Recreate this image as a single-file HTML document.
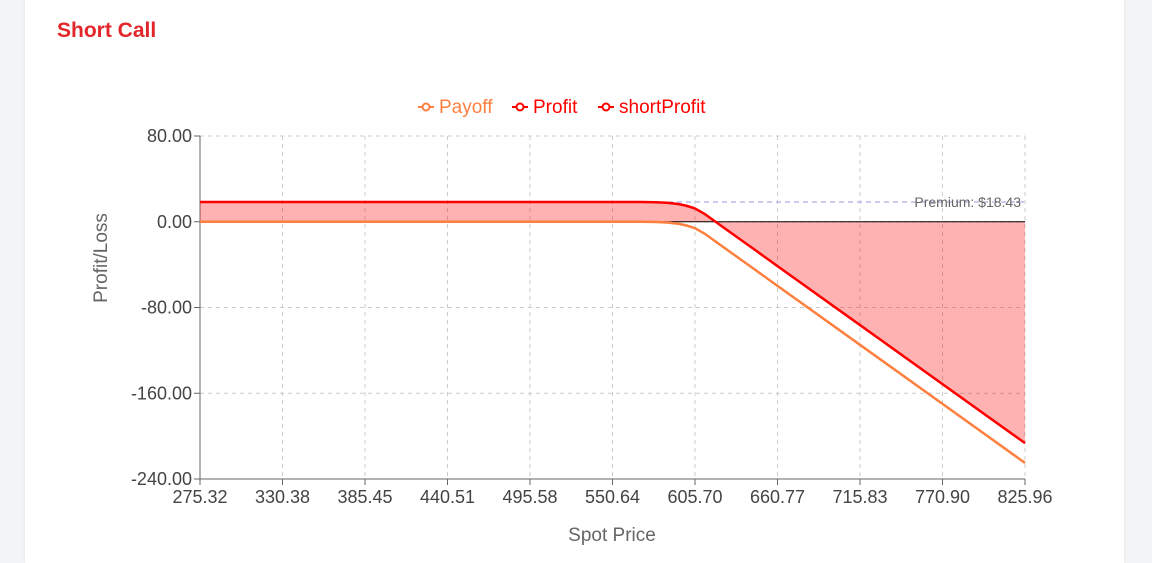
<!DOCTYPE html>
<html><head><meta charset="utf-8"><style>
html,body{margin:0;padding:0;width:1152px;height:563px;overflow:hidden;background:#f3f4f6;font-family:"Liberation Sans",sans-serif}
#card{position:absolute;left:25px;top:-10px;width:1099px;height:573px;background:#fff;box-shadow:0 0 3px rgba(0,0,0,0.08)}
#title{position:absolute;left:57px;top:19px;font-size:21px;font-weight:bold;color:#e3262b}
svg{position:absolute;left:0;top:0}
</style></head><body>
<div id="card"></div>
<div id="title">Short Call</div>
<svg id="chart" width="1152" height="563"></svg>
<script>
const spot = [275.32,330.38,385.45,440.51,495.58,550.64,570,580,588,595,600,605.7,612,620,630,645,660.77,715.83,770.90,825.96];
const payoff = [0,0,0,0,0,0,0,-0.2,-0.8,-2,-3.5,-6,-11,-19,-29,-44,-59.8,-114.8,-169.9,-225];
const premium = 18.43;
const xTicks = ["275.32","330.38","385.45","440.51","495.58","550.64","605.70","660.77","715.83","770.90","825.96"];
const yTicks = [80,0,-80,-160,-240];
const X0=200,X1=1025,Y0=136,Y1=479;
const xs=v=>X0+(v-275.32)/(825.96-275.32)*(X1-X0);
const ys=v=>Y0+(80-v)/320*(Y1-Y0);
const svg=document.getElementById('chart');
const NS='http://www.w3.org/2000/svg';
function mk(t,a,txt){const e=document.createElementNS(NS,t);for(const k in a)e.setAttribute(k,a[k]);if(txt!==undefined)e.textContent=txt;svg.appendChild(e);return e;}
xTicks.forEach((t,i)=>{const x=X0+i*(X1-X0)/(xTicks.length-1);
 const g=mk('line',{x1:x,x2:x,y1:Y0,y2:Y1,stroke:'#ccc','stroke-dasharray':'4,4'});
 
 mk('line',{x1:x,x2:x,y1:Y1,y2:Y1+6,stroke:'#666'});
 const l=mk('text',{x:x,y:Y1+24,'text-anchor':'middle','font-size':18,fill:'#444'},t);
 });
yTicks.forEach(v=>{const y=ys(v);
 const g=mk('line',{x1:X0,x2:X1,y1:y,y2:y,stroke:'#ccc','stroke-dasharray':'4,4'});
 
 mk('line',{x1:X0-6,x2:X0,y1:y,y2:y,stroke:'#666'});
 const l=mk('text',{x:X0-8,y:y+6,'text-anchor':'end','font-size':18,fill:'#444'},v.toFixed(2));
 });
mk('line',{x1:X0,x2:X0,y1:Y0,y2:Y1,stroke:'#666'});
mk('line',{x1:X0,x2:X1,y1:Y1,y2:Y1,stroke:'#666'});
const profit=payoff.map(v=>v+premium);
let d='M'+xs(spot[0])+','+ys(0);
spot.forEach((s,i)=>d+=' L'+xs(s)+','+ys(profit[i]));
d+=' L'+xs(spot[spot.length-1])+','+ys(0)+' Z';
const area=mk('path',{d:d,fill:'rgba(255,0,0,0.3)'});

const zl=mk('line',{x1:X0,x2:X1,y1:ys(0),y2:ys(0),stroke:'#000','stroke-width':1});

const pl=mk('line',{x1:X0,x2:X1,y1:ys(premium),y2:ys(premium),stroke:'#9a9ae0','stroke-dasharray':'5,4'});

const pt=mk('text',{x:X1-4,y:ys(premium)+5,'text-anchor':'end','font-size':14,fill:'#666'},'Premium: $'+premium.toFixed(2));

function line(vals,color,name){const p=mk('polyline',{points:spot.map((s,i)=>xs(s)+','+ys(vals[i])).join(' '),fill:'none',stroke:color,'stroke-width':2.5,'stroke-linejoin':'round'});
 }
line(payoff,'#ff7f3f','payoff-line');
line(profit,'#ff0000','profit-line');
const xt=mk('text',{x:612,y:541,'text-anchor':'middle','font-size':19,fill:'#666'},'Spot Price');

const yt=mk('text',{x:0,y:0,'text-anchor':'middle','font-size':19,fill:'#666',transform:'translate(107,258) rotate(-90)'},'Profit/Loss');

const legend=[['Payoff','#ff7f3f',418],['Profit','#ff0000',512],['shortProfit','#ff0000',598]];
legend.forEach(([n,c,x])=>{
 mk('line',{x1:x,x2:x+16,y1:107,y2:107,stroke:c,'stroke-width':2});
 mk('circle',{cx:x+8,cy:107,r:3.5,fill:'#fff',stroke:c,'stroke-width':2});
 const t=mk('text',{x:x+21,y:113,'font-size':19,fill:c},n);
 });
</script>
</body></html>
